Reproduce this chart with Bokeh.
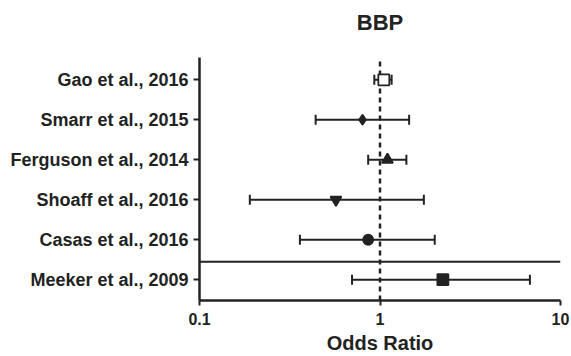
from bokeh.plotting import figure
from bokeh.models import FixedTicker, BasicTickFormatter, ColumnDataSource
from bokeh.embed import file_html
from bokeh.resources import INLINE
from bokeh.core.properties import value

# ---- data ----
studies = ["Gao et al., 2016", "Smarr et al., 2015", "Ferguson et al., 2014",
           "Shoaff et al., 2016", "Casas et al., 2016", "Meeker et al., 2009"]
odds_ratio = [1.05, 0.80, 1.10, 0.57, 0.86, 2.23]
ci_low = [0.93, 0.44, 0.86, 0.19, 0.36, 0.70]
ci_high = [1.16, 1.45, 1.40, 1.75, 2.01, 6.77]
markers = ["square", "diamond", "triangle", "inverted_triangle", "circle", "square"]
fills = ["white", "#222222", "#222222", "#222222", "#222222", "#222222"]
x_ticks = [0.1, 1, 10]
separator_y = 1.45
title_text = "BBP"

n = len(studies)
ypos = [n - i for i in range(n)]
y_lo, y_hi = 0.48, 6.56          # extent of the plotted study area
y_top = 7.985                    # room above for the title
title_y = 7.44

INK = "#222222"
FONT = "Liberation Sans"

p = figure(width=571, height=356, x_axis_type="log", x_range=(0.1, 10),
           y_range=(y_lo, y_top), output_backend="svg", toolbar_location=None,
           min_border_left=199, min_border_right=11, min_border_top=0,
           min_border_bottom=56)
p.outline_line_color = None
p.xgrid.visible = False
p.ygrid.visible = False

src = ColumnDataSource(dict(y=ypos, lo=ci_low, hi=ci_high, x=odds_ratio,
                            m=markers, f=fills))

# title
p.text(x=[1], y=[title_y], text=[title_text], text_align="center",
       text_baseline="middle", text_font=value(FONT), text_font_style="bold",
       text_font_size="22px", text_color=INK)

# separator line
p.segment(x0=[x_ticks[0]], x1=[x_ticks[-1]], y0=[separator_y], y1=[separator_y],
          line_color=INK, line_width=2.2)

# reference line at OR = 1
p.segment(x0=[1], x1=[1], y0=[y_lo], y1=[y_hi], line_color=INK,
          line_width=2.5, line_dash="5 4")

# error bars
p.segment(x0="lo", x1="hi", y0="y", y1="y", source=src, line_color=INK, line_width=2)
p.scatter(x="lo", y="y", source=src, marker="dash", angle=1.5708, size=10,
          line_color=INK, line_width=2)
p.scatter(x="hi", y="y", source=src, marker="dash", angle=1.5708, size=10,
          line_color=INK, line_width=2)

# point estimates
src.data["s"] = [11, 10, 11, 11, 10, 11]
p.scatter(x="x", y="y", source=src, marker="m", size="s", fill_color="f",
          line_color=INK, line_width=1.8)

# axes
p.xaxis.ticker = FixedTicker(ticks=x_ticks, minor_ticks=[])
p.xaxis.formatter = BasicTickFormatter()
p.yaxis.ticker = FixedTicker(ticks=ypos, minor_ticks=[])
p.yaxis.major_label_overrides = {y: s for y, s in zip(ypos, studies)}
p.yaxis.bounds = (y_lo, y_hi)

for ax in (p.xaxis, p.yaxis):
    ax.axis_line_color = INK
    ax.axis_line_width = 2.5
    ax.major_tick_line_color = INK
    ax.major_tick_line_width = 2
    ax.major_tick_in = 0
    ax.minor_tick_line_color = None
    ax.major_label_text_color = INK
    ax.major_label_text_font = FONT
    ax.major_label_text_font_style = "bold"

p.xaxis.major_tick_out = 5
p.yaxis.major_tick_out = 6
p.xaxis.major_label_text_font_size = "16px"
p.yaxis.major_label_text_font_size = "18px"
p.xaxis.major_label_standoff = 7
p.yaxis.major_label_standoff = 5

p.xaxis.axis_label = "Odds Ratio"
p.xaxis.axis_label_text_font = FONT
p.xaxis.axis_label_text_font_style = "bold"
p.xaxis.axis_label_text_font_size = "20px"
p.xaxis.axis_label_text_color = INK
p.xaxis.axis_label_standoff = 4

open("out.html", "w").write(file_html(p, INLINE))
